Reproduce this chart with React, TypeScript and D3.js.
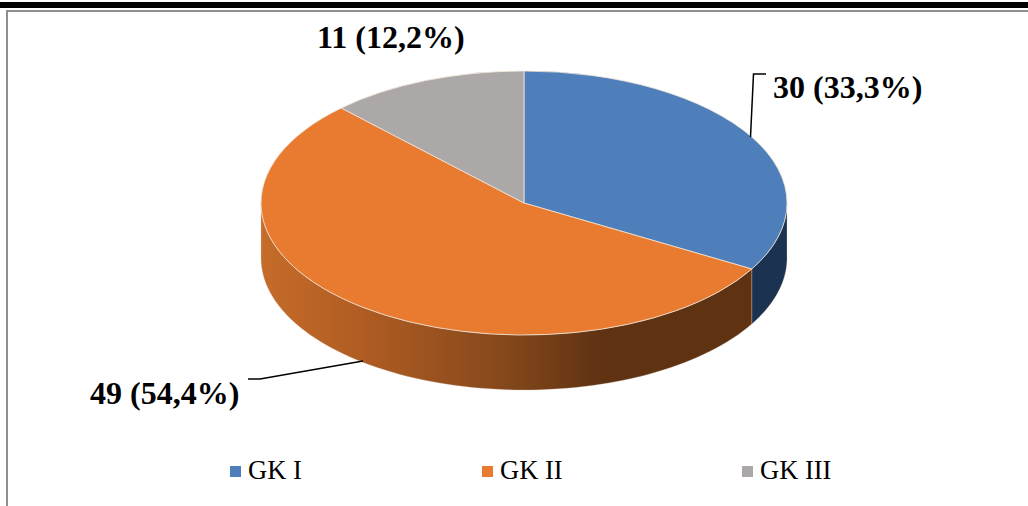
import React from "react";
import * as d3 from "d3";

const CATEGORIES = ["GK I", "GK II", "GK III"];
const VALUES = [30, 49, 11];
const LABELS = ["30 (33,3%)", "49 (54,4%)", "11 (12,2%)"];
const TOP_COLORS = ["#4f7fbb", "#e97b30", "#aca8a8"];

const W = 1028;
const H = 506;
const cx = 524;
const cy = 203;
const rx = 263;
const ry = 132;
const depth = 55;

// pie is tilted, so points are squashed on y
const px = (a: number) => cx + rx * Math.sin(a);
const py = (a: number) => cy - ry * Math.cos(a);
const line = d3.line<[number, number]>();

const App: React.FC = () => {
  const slices = d3.pie<number>().sort(null)(VALUES);
  const arc = d3.arc<d3.PieArcDatum<number>>().innerRadius(0).outerRadius(rx);

  // side wall is only visible on the lower half of the ellipse
  const wall = (a0: number, a1: number) => {
    const from = Math.max(a0, Math.PI / 2);
    const to = Math.min(a1, (3 * Math.PI) / 2);
    if (to <= from) return null;
    const steps = d3.range(0, 81).map((i) => from + ((to - from) * i) / 80);
    const top = steps.map((a) => [px(a), py(a)] as [number, number]);
    const bottom = steps.map((a) => [px(a), py(a) + depth] as [number, number]).reverse();
    return line([...top, ...bottom]) + "Z";
  };

  const wallFills = ["#1b3350", "url(#orangeWall)", "#6b6868"];

  return (
    <svg
      width={W}
      height={H}
      viewBox={`0 0 ${W} ${H}`}
      style={{ position: "absolute", left: 0, top: 0, background: "#fff" }}
      fontFamily="'Liberation Serif', serif"
    >
      <defs>
        <linearGradient id="orangeWall" gradientUnits="userSpaceOnUse" x1={cx - rx} x2={cx + rx} y1={0} y2={0}>
          <stop offset="0" stopColor="#c56c2a" />
          <stop offset="0.17" stopColor="#b35e23" />
          <stop offset="0.45" stopColor="#87491c" />
          <stop offset="0.65" stopColor="#5f3212" />
          <stop offset="1" stopColor="#5f3212" />
        </linearGradient>
      </defs>

      {/* page rule and frame */}
      <rect x={0} y={2} width={W} height={6} fill="#000" />
      <rect x={6} y={10} width={W - 6} height={2} fill="#8f8f8f" />
      <rect x={6} y={10} width={2} height={H - 10} fill="#8f8f8f" />

      {slices.map((s, i) => {
        const d = wall(s.startAngle, s.endAngle);
        return d ? <path key={i} d={d} fill={wallFills[i]} stroke="#d9c9b8" strokeWidth={0.3} /> : null;
      })}

      <g transform={`translate(${cx},${cy}) scale(1,${ry / rx})`}>
        {slices.map((s, i) => (
          <path
            key={i}
            d={arc(s) ?? ""}
            fill={TOP_COLORS[i]}
            stroke="#f0e4d8"
            strokeWidth={0.8}
            vectorEffect="non-scaling-stroke"
          />
        ))}
      </g>

      {/* leader lines */}
      <path d="M750.5,137 L753.5,74 L766,74" fill="none" stroke="#000" strokeWidth={1.5} />
      <path d="M363,361 L260,379 L248,379" fill="none" stroke="#000" strokeWidth={1.5} />

      <g fontSize={32} fontWeight="bold" fill="#000">
        <text x={773} y={98}>{LABELS[0]}</text>
        <text x={90} y={404}>{LABELS[1]}</text>
        <text x={317} y={48}>{LABELS[2]}</text>
      </g>

      <g fontSize={26.5} fill="#000">
        {CATEGORIES.map((c, i) => {
          const x = [230, 482, 742][i];
          return (
            <g key={c}>
              <rect x={x} y={466} width={11} height={11} fill={TOP_COLORS[i]} />
              <text x={x + 18} y={479}>{c}</text>
            </g>
          );
        })}
      </g>
    </svg>
  );
};

export default App;
